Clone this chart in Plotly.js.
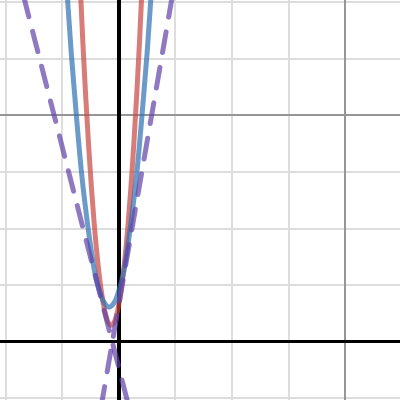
<!DOCTYPE html>
<html>
<head>
<meta charset="utf-8">
<script src="https://cdn.plot.ly/plotly-3.0.1.min.js"></script>
<style>
html,body{margin:0;padding:0;background:#fff;}
#chart{width:400px;height:400px;}
#chart path.js-line{stroke-linecap:round;stroke-linejoin:round;}
</style>
</head>
<body>
<div id="chart"></div>
<script>
// Red curve (narrow parabola)
const redX = [-0.695, -0.635, -0.585, -0.535, -0.485, -0.435, -0.385, -0.335, -0.285, -0.235, -0.185, -0.135, -0.085, -0.035, 0.015, 0.065, 0.115, 0.165, 0.215, 0.265, 0.315, 0.365, 0.425];
const redY = [6.56, 5.29, 4.34, 3.49, 2.74, 2.09, 1.54, 1.09, 0.74, 0.49, 0.34, 0.29, 0.34, 0.49, 0.74, 1.09, 1.54, 2.09, 2.74, 3.49, 4.34, 5.29, 6.56];

// Blue curve (wider parabola)
const blueX = [-0.93, -0.84, -0.75, -0.66, -0.58, -0.50, -0.42, -0.35, -0.28, -0.22, -0.17, -0.12, -0.06, 0.01, 0.08, 0.16, 0.24, 0.32, 0.41, 0.50, 0.59];
const blueY = [6.4, 5.1, 4.0, 3.0, 2.3, 1.7, 1.2, 0.93, 0.73, 0.64, 0.61, 0.64, 0.73, 0.93, 1.2, 1.7, 2.3, 3.0, 4.0, 5.1, 6.4];

// Purple dashed lines (two straight lines crossing near the x-axis)
const purpleAX = [-1.681, 0.165];
const purpleAY = [6.1, -1.1];
const purpleBX = [0.944, -0.304];
const purpleBY = [6.1, -1.1];

const traces = [
  {x: redX, y: redY, mode: 'lines', line: {color: '#c74440', width: 5, shape: 'spline'}, opacity: 0.7, hoverinfo: 'skip'},
  {x: blueX, y: blueY, mode: 'lines', line: {color: '#2d70b3', width: 5, shape: 'spline'}, opacity: 0.7, hoverinfo: 'skip'},
  {x: purpleAX, y: purpleAY, mode: 'lines', line: {color: '#6042a6', width: 5, dash: '21px,15px'}, opacity: 0.7, hoverinfo: 'skip'},
  {x: purpleBX, y: purpleBY, mode: 'lines', line: {color: '#6042a6', width: 5, dash: '21px,15px'}, opacity: 0.7, hoverinfo: 'skip'}
];

const axisCommon = {
  dtick: 4, tick0: 0,
  showgrid: true, gridcolor: 'rgb(150,150,150)', gridwidth: 2,
  minor: {dtick: 1, tick0: 0, showgrid: true, gridcolor: 'rgb(221,221,221)', gridwidth: 2},
  zeroline: true, zerolinecolor: '#000', zerolinewidth: 3.5,
  showticklabels: false, ticks: '', showline: false, fixedrange: true
};

const layout = {
  width: 400, height: 400,
  margin: {l: 0, r: 0, t: 0, b: 0},
  paper_bgcolor: '#fff', plot_bgcolor: '#fff',
  showlegend: false,
  xaxis: Object.assign({}, axisCommon, {range: [-2.099, 4.968]}),
  yaxis: Object.assign({}, axisCommon, {range: [-1.030, 6.037]})
};

Plotly.newPlot('chart', traces, layout, {staticPlot: true, displayModeBar: false});
</script>
</body>
</html>
